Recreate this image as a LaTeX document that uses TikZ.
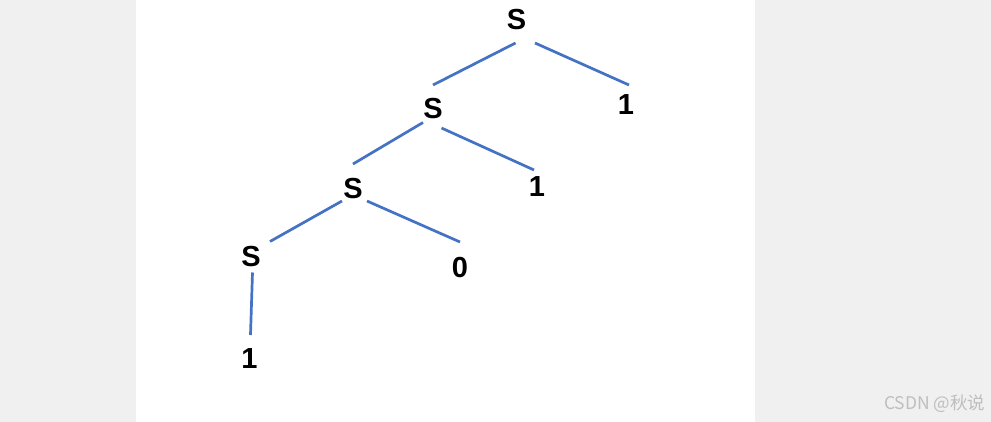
\documentclass[tikz,border=0pt]{standalone}
\usepackage{fontspec}
\setmainfont{Liberation Sans}
\newfontfamily\cjkfont{Noto Sans CJK SC}
\usepackage{tikz}
\usetikzlibrary{calc}
\definecolor{edgeblue}{HTML}{4472C4}
\definecolor{pagegray}{HTML}{F0F0F0}
\definecolor{markgray}{HTML}{BEBEBE}
\tikzset{
	sym/.style={font=\fontsize{29}{33}\selectfont\bfseries, inner sep=0pt},
	edge/.style={edgeblue, line width=2.7pt}
}

\begin{document}
\begin{tikzpicture}[x=1pt, y=-1pt]
		\useasboundingbox (0, 0) rectangle (991, 422);
		\fill[pagegray] (0, 0) rectangle (991, 422);
		\fill[white] (136, 0) rectangle (755, 422);
		
		\node[sym] (s0) at (516.5, 20) {S};
		\node[sym] (one0) at (626, 105) {1};
		\node[sym] (s1) at (433, 109) {S};
		\node[sym] (one1) at (537, 187) {1};
		\node[sym] (s2) at (353, 189) {S};
		\node[sym] (zero) at (460, 268) {0};
		\node[sym] (s3) at (251, 257) {S};
		\node[sym] (one2) at (249.5, 359) {1};
		
		\draw[edge] ($(s0)+(-1, 23)$) -- ($(s1)+(0, -24)$);
		\draw[edge] ($(s0)+(18.5, 23)$) -- ($(one0)+(3, -20)$);
		\draw[edge] ($(s1)+(-10, 13.5)$) -- ($(s2)+(0, -25)$);
		\draw[edge] ($(s1)+(8.5, 19)$) -- ($(one1)+(-3, -17)$);
		\draw[edge] ($(s2)+(-11, 12)$) -- ($(s3)+(19, -15.5)$);
		\draw[edge] ($(s2)+(14, 12)$) -- ($(zero)+(0, -26)$);
		\draw[edge] ($(s3)+(1.5, 15.5)$) -- ($(one2)+(1, -24)$);
		
		\node[markgray, font=\cjkfont\fontsize{17.5}{20}\selectfont, anchor=east] (mark) at (989, 404) {CSDN @秋说};
	\end{tikzpicture}
\end{document}
